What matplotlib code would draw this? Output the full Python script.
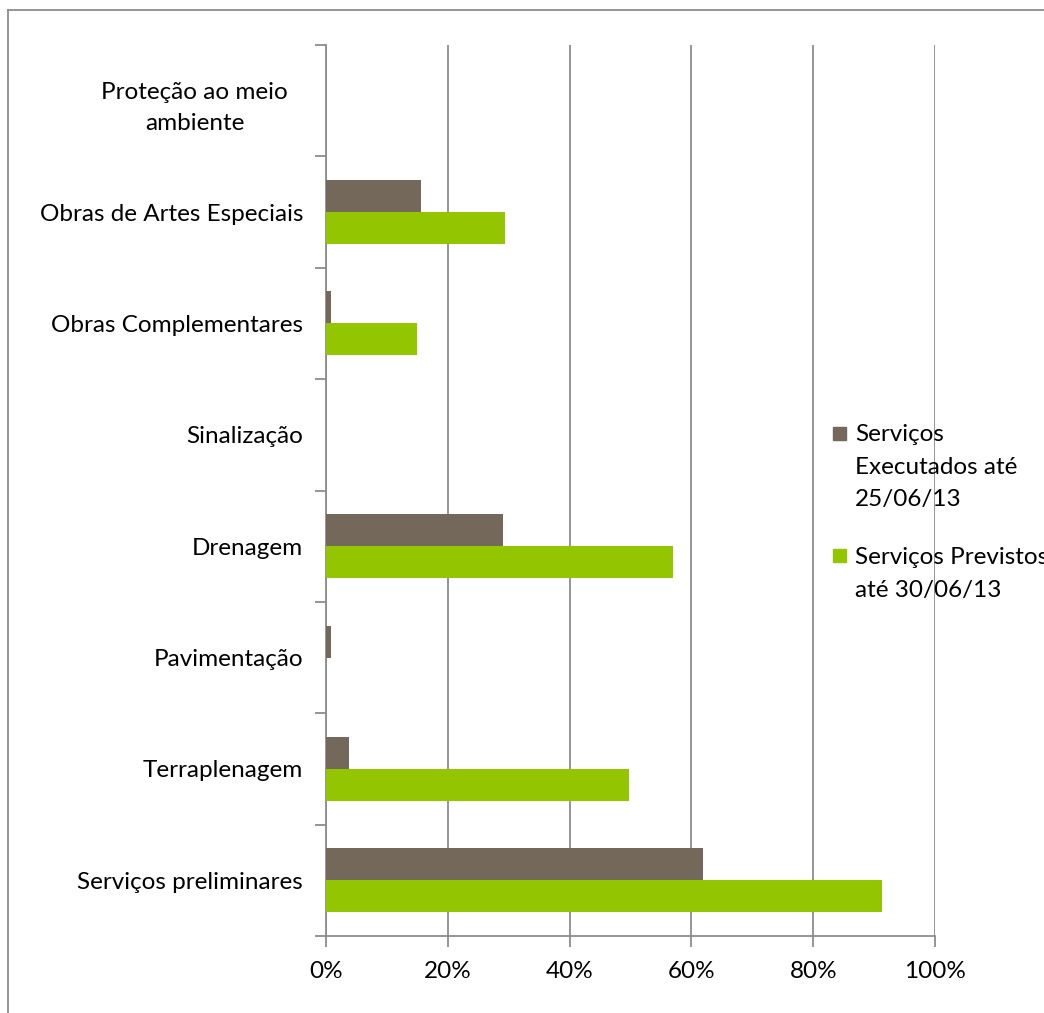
import matplotlib
matplotlib.use("Agg")
import matplotlib.pyplot as plt
import numpy as np
from matplotlib.lines import Line2D
from matplotlib.patches import Rectangle

categories = ["Serviços preliminares", "Terraplenagem", "Pavimentação", "Drenagem",
              "Sinalização", "Obras Complementares", "Obras de Artes Especiais",
              "Proteção ao meio\nambiente"]
executados = [61.9, 3.8, 0.8, 29.1, 0.0, 0.8, 15.6, 0.0]
previstos = [91.3, 49.8, 0.0, 57.0, 0.0, 14.9, 29.4, 0.0]
xticks = [0, 20, 40, 60, 80, 100]
xticklabels = ["0%", "20%", "40%", "60%", "80%", "100%"]
series_names = ["Serviços\nExecutados até\n25/06/13", "Serviços Previstos\naté 30/06/13"]
colors = ["#736859", "#93C500"]

plt.rcParams['font.family'] = ['Lato', 'DejaVu Sans']
FS = 17.5
W, H = 1044, 1013
fig = plt.figure(figsize=(W / 100, H / 100), dpi=100)
ax = fig.add_axes([326 / W, 1 - 936 / H, (935 - 326) / W, (936 - 45) / H])

y = np.arange(len(categories))
h = 0.287
ax.barh(y + h / 2, executados, height=h, color=colors[0], zorder=3)
ax.barh(y - h / 2, previstos, height=h, color=colors[1], zorder=3)

ax.set_xlim(0, 100)
ax.set_ylim(-0.5, len(categories) - 0.5)
ax.set_xticks(xticks)
ax.set_xticklabels(xticklabels, fontsize=FS)
ax.xaxis.grid(True, color="#8c8c8c", linewidth=1.3, zorder=0)
ax.set_axisbelow(True)

ax.set_yticks(np.arange(-0.5, len(categories), 1.0))
ax.set_yticklabels([])
ax.set_yticks(y, minor=True)
ax.set_yticklabels(categories, minor=True, fontsize=FS, ha="right", multialignment="center",
                   linespacing=1.6)
ax.tick_params(axis="y", which="minor", length=0, pad=16.5)
ax.tick_params(axis="y", which="major", length=8, width=1.3, color="#8c8c8c", direction="out")
ax.tick_params(axis="x", length=8, width=1.3, color="#8c8c8c", direction="out", pad=10)
# the wrapped label sits a little further left in the reference
lbl = ax.get_yticklabels(minor=True)[-1]
lbl.set_x(-0.025)

for s in ["top", "right"]:
    ax.spines[s].set_visible(False)
for s in ["left", "bottom"]:
    ax.spines[s].set_color("#8c8c8c")
    ax.spines[s].set_linewidth(1.3)

# legend (manual): (square top px, text top px)
items = [(427, 424, series_names[0]), (549, 547, series_names[1])]
for (sq_top, txt_top, name), c in zip(items, colors):
    fig.patches.append(Rectangle((833 / W, 1 - (sq_top + 13) / H), 13 / W, 13 / H,
                                 transform=fig.transFigure, color=c, figure=fig))
    fig.text(855 / W, 1 - txt_top / H, name, fontsize=FS, va="top", ha="left",
             linespacing=1.68)

# outer chart border (left and top visible)
fig.add_artist(Line2D([8 / W, 8 / W], [0, 1 - 10 / H], transform=fig.transFigure,
                      color="#8c8c8c", linewidth=1.3))
fig.add_artist(Line2D([8 / W, 1], [1 - 10 / H, 1 - 10 / H], transform=fig.transFigure,
                      color="#8c8c8c", linewidth=1.3))

fig.savefig("out.png", dpi=100)
